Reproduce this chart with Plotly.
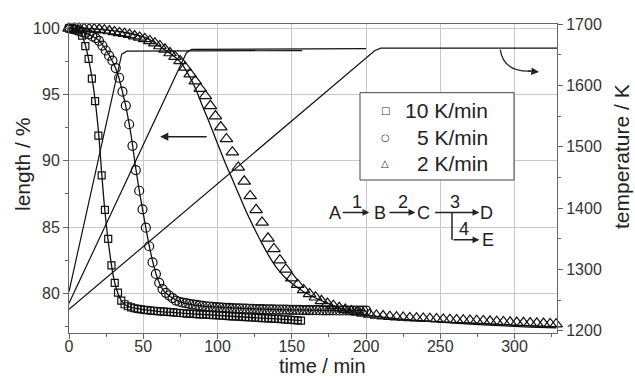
import plotly.graph_objects as go

# ---------------- data ----------------
t_sq = [0, 2.2, 4.4, 6.6, 8.8, 11.0, 13.2, 15.4, 17.6, 19.8, 22.0, 24.2, 26.4, 28.6, 30.8, 33.0, 35.2, 37.4,
        39.6, 41.8, 44.0, 46.2, 48.4, 50.6, 52.8, 55.0, 57.2, 59.4, 61.6, 63.8, 66.0, 68.2, 70.4, 72.6, 74.8,
        77.0, 79.2, 81.4, 83.6, 85.8, 88.0, 90.2, 92.4, 94.6, 96.8, 99.0, 101.2, 103.4, 105.6, 107.8, 110.0,
        112.2, 114.4, 116.6, 118.8, 121.0, 123.2, 125.4, 127.6, 129.8, 132.0, 134.2, 136.4, 138.6, 140.8,
        143.0, 145.2, 147.4, 149.6, 151.8, 154.0, 156.2]
L_sq = [100.0, 99.98, 99.95, 99.85, 99.45, 98.66, 97.7, 96.2, 94.5, 91.9, 88.9, 86.3, 84.1, 82.1, 80.78, 80.05, 79.45, 79.17,
        79.02, 78.93, 78.87, 78.82, 78.78, 78.75, 78.72, 78.69, 78.67, 78.65, 78.63, 78.61, 78.59, 78.57, 78.55, 78.53, 78.51,
        78.49, 78.47, 78.46, 78.44, 78.43, 78.41, 78.40, 78.38, 78.37, 78.35, 78.34, 78.32, 78.31, 78.29, 78.28, 78.26,
        78.25, 78.23, 78.22, 78.20, 78.19, 78.17, 78.16, 78.15, 78.13, 78.12, 78.10, 78.09, 78.07, 78.06,
        78.04, 78.02, 78.01, 77.99, 77.97, 77.95, 77.93]

t_ci = [0, 2.25, 4.5, 6.75, 9.0, 11.25, 13.5, 15.75, 18.0, 20.25, 22.5, 24.75, 27.0, 29.25, 31.5, 33.75, 36.0, 38.25,
        40.5, 42.75, 45.0, 47.25, 49.5, 51.75, 54.0, 56.25, 58.5, 60.75, 63.0, 65.25, 67.5, 69.75, 72.0, 74.25,
        76.5, 78.75, 81.0, 83.25, 85.5, 87.75, 90.0, 92.25, 94.5, 96.75, 99.0, 101.25, 103.5, 105.75, 108.0,
        110.25, 112.5, 114.75, 117.0, 119.25, 121.5, 123.75, 126.0, 128.25, 130.5, 132.75, 135.0, 137.25,
        139.5, 141.75, 144.0, 146.25, 148.5, 150.75, 153.0, 155.25, 157.5, 159.75, 162.0, 164.25, 166.5,
        168.75, 171.0, 173.25, 175.5, 177.75, 180.0, 182.25, 184.5, 186.75, 189.0, 191.25, 193.5, 195.75,
        198.0, 200.25]
L_ci = [100.0, 99.95, 99.88, 99.8, 99.72, 99.66, 99.55, 99.39, 99.27, 99.06, 98.7, 98.33, 97.94, 97.57, 97.0, 96.27, 95.22, 94.17,
        92.76, 91.13, 89.3, 87.74, 86.34, 84.95, 83.55, 82.33, 81.46, 80.78, 80.32, 80.03, 79.83, 79.64, 79.45, 79.36,
        79.3, 79.25, 79.2, 79.16, 79.12, 79.08, 79.05, 79.02, 79.0, 78.98, 78.96, 78.94, 78.92, 78.9, 78.89,
        78.88, 78.87, 78.86, 78.85, 78.84, 78.83, 78.82, 78.81, 78.8, 78.8, 78.79, 78.78, 78.78,
        78.77, 78.77, 78.76, 78.76, 78.75, 78.75, 78.74, 78.74, 78.73, 78.73, 78.73, 78.72, 78.72,
        78.72, 78.71, 78.71, 78.71, 78.71, 78.7, 78.7, 78.7, 78.7, 78.7, 78.69, 78.69, 78.69,
        78.69, 78.69]

t_tr = [0, 3.4, 6.8, 10.2, 13.6, 17.0, 20.4, 23.8, 27.2, 30.6, 34.0, 37.4, 40.8, 44.2, 47.6, 51.0, 54.4, 57.8,
        61.2, 64.6, 68.0, 71.4, 74.8, 78.2, 81.6, 85.0, 88.4, 91.8, 95.2, 98.6, 102.2, 106.0, 110.0, 114.0,
        118.0, 122.0, 126.0, 130.0, 134.0, 138.0, 142.0, 146.0, 150.0, 154.0, 158.0, 162.0, 166.0, 170.0,
        174.0, 178.0, 182.0, 186.0, 190.0, 194.0, 198.0, 202.5, 207, 211.5, 216, 220.5, 225, 229.5, 234,
        238.5, 243, 247.5, 252, 256.5, 261, 265.5, 270, 274.5, 279, 283.5, 288, 292.5, 297, 301.5, 306,
        310.5, 315, 319.5, 324, 328]
L_tr = [100.0, 100.0, 100.0, 99.98, 99.96, 99.94, 99.91, 99.86, 99.8, 99.73, 99.66, 99.6, 99.52, 99.42, 99.32, 99.2, 99.05, 98.88,
        98.67, 98.42, 98.14, 97.86, 97.54, 97.05, 96.55, 96.02, 95.45, 94.9, 94.15, 93.38, 92.55, 91.65, 90.65, 89.5,
        88.45, 87.35, 86.3, 85.35, 84.15, 83.35, 82.5, 81.8, 81.15, 80.65, 80.25, 79.95, 79.7, 79.43,
        79.22, 79.06, 78.9, 78.77, 78.66, 78.57, 78.48, 78.4, 78.33, 78.28, 78.23, 78.2, 78.17, 78.14, 78.12,
        78.1, 78.08, 78.06, 78.03, 78.01, 77.99, 77.97, 77.95, 77.93, 77.91, 77.88, 77.86, 77.84, 77.81, 77.79, 77.77,
        77.75, 77.73, 77.71, 77.69, 77.67]

# model (fit) curves
t_fit10 = [0, 5, 8, 10, 12, 14, 16, 18, 20, 22, 24, 26, 28, 30, 32, 34, 36, 38, 41, 45, 50, 60, 70, 80, 100, 120, 140, 157]
L_fit10 = [100.0, 99.95, 99.65, 99.1, 98.3, 97.2, 95.9, 94.2, 92.0, 89.1, 86.4, 84.3, 82.6, 81.2, 80.3, 79.7, 79.33, 79.12,
           78.96, 78.86, 78.77, 78.64, 78.55, 78.47, 78.33, 78.19, 78.06, 77.93]
t_fit5 = [0, 10, 15, 20, 25, 30, 33, 36, 39, 42, 45, 48, 51, 54, 57, 60, 63, 66, 70, 75, 80, 90, 100, 120, 140, 160, 180, 200]
L_fit5 = [100.0, 99.7, 99.45, 99.1, 98.35, 97.35, 96.5, 95.2, 93.7, 91.8, 89.4, 87.3, 85.4, 83.6, 82.1, 81.0, 80.3, 79.95,
          79.62, 79.35, 79.2, 79.03, 78.95, 78.84, 78.77, 78.73, 78.7, 78.69]
t_fit2 = [0, 20, 40, 50, 55, 60, 65, 70, 75, 80, 85, 90, 95, 100, 105, 110, 115, 120, 125, 130, 135, 140, 145, 150, 158,
          165, 170, 183, 196, 210, 230, 250, 270, 290, 310, 328]
L_fit2 = [100.0, 99.93, 99.65, 99.35, 99.1, 98.72, 98.35, 97.95, 97.45, 96.6, 95.5, 94.1, 92.75, 91.3, 89.9, 88.6, 87.3,
          86.0, 84.85, 83.75, 82.75, 81.9, 81.25, 80.75, 80.11, 79.7, 79.45, 78.85, 78.47, 78.21, 77.98, 77.82, 77.67,
          77.55, 77.45, 77.38]

# temperature programmes (right axis)
t_T10 = [0, 35.5, 39, 157]
T10 = [1264, 1651, 1656, 1657]
t_T5 = [0, 79, 82.5, 200]
T5 = [1245, 1653, 1659, 1660]
t_T2 = [0, 206, 210, 328.6]
T2 = [1235, 1657, 1661, 1661]

series_names = ["10 K/min", "5 K/min", "2 K/min"]
legend_symbols = ["\u25a1", "\u25cb", "\u25b3"]
x_ticks = [0, 50, 100, 150, 200, 250, 300]
y_ticks = [80, 85, 90, 95, 100]
y2_ticks = [1200, 1300, 1400, 1500, 1600, 1700]

FONT = "Arial, 'Liberation Sans', sans-serif"
W, H = 635, 378
ML, MR, MT, MB = 69, 78, 24, 45
pw, ph = W - ML - MR, H - MT - MB
def px2paper(px, py):
    return (px - ML) / pw, (H - MB - py) / ph

fig = go.Figure()

# temperature lines
for tt, TT in [(t_T10, T10), (t_T5, T5), (t_T2, T2)]:
    fig.add_trace(go.Scatter(x=tt, y=TT, mode="lines", yaxis="y2", showlegend=False,
                             line=dict(color="#111", width=1.2), hoverinfo="skip"))
# fits
for tt, LL in [(t_fit10, L_fit10), (t_fit5, L_fit5), (t_fit2, L_fit2)]:
    fig.add_trace(go.Scatter(x=tt, y=LL, mode="lines", showlegend=False, line_shape="spline",
                             line=dict(color="#111", width=1.3), hoverinfo="skip"))
# data markers
specs = [(t_sq, L_sq, "square-open", 7, series_names[0]), (t_ci, L_ci, "circle-open", 9, series_names[1]),
         (t_tr, L_tr, "triangle-up-open", 11, series_names[2])]
for (tt, LL, sym, sz, nm) in specs:
    fig.add_trace(go.Scatter(x=tt, y=LL, mode="markers", name=nm, showlegend=False, cliponaxis=False,
                             marker=dict(symbol=sym, size=sz, color="#111", line=dict(width=1.2, color="#111"))))

# ---- legend box drawn by hand (matches reference layout) ----
bx0, by0 = px2paper(360, 180)
bx1, by1 = px2paper(514, 92.7)
fig.add_shape(type="rect", xref="paper", yref="paper", x0=bx0, y0=by0, x1=bx1, y1=by1,
              line=dict(color="#444", width=1), fillcolor="white", layer="above")
for i, (nm, sy) in enumerate(zip(series_names, legend_symbols)):
    py = 110.5 + i * 26.6
    sx, syp = px2paper(385, py)
    fig.add_annotation(x=sx, y=syp, xref="paper", yref="paper", text=sy, showarrow=False,
                       font=dict(family="DejaVu Sans", size=10, color="#333"), xanchor="center", yanchor="middle")
    tx, typ = px2paper(490, py)
    fig.add_annotation(x=tx, y=typ, xref="paper", yref="paper", text=nm, showarrow=False,
                       font=dict(family=FONT, size=21, color="#222"), xanchor="right", yanchor="middle")

# left arrow (points to length axis)
fig.add_annotation(x=61.3, y=91.82, ax=93.7, ay=91.82, xref="x", yref="y", axref="x", ayref="y",
                   text="", showarrow=True, arrowhead=2, arrowsize=1.1, arrowwidth=1.5, arrowcolor="#222")
# curved arrow (points to temperature axis)
fig.add_shape(type="path", xref="x", yref="y", path="M 290.4 98.4 Q 292.5 96.7 311 96.78",
              line=dict(color="#222", width=1.3))
fig.add_annotation(x=316.5, y=96.7, ax=308, ay=96.8, xref="x", yref="y", axref="x", ayref="y",
                   text="", showarrow=True, arrowhead=2, arrowsize=1.1, arrowwidth=1.4, arrowcolor="#222")

# reaction scheme
sch_font = dict(family=FONT, size=18, color="#222")
for txt, x, y in [("A", 179.0, 86.06), ("B", 209.6, 86.06), ("C", 238.9, 86.06), ("D", 281.0, 86.06),
                  ("E", 282.2, 84.02), ("1", 193.9, 86.9), ("2", 224.6, 86.9), ("3", 260.1, 86.9),
                  ("4", 265.7, 84.85)]:
    fig.add_annotation(x=x, y=y, xref="x", yref="y", text=txt, showarrow=False, font=sch_font)
for (x0, x1, y) in [(183.3, 202.2, 86.1), (214.8, 233.2, 86.1), (245.5, 276.3, 86.1), (257.9, 276.3, 84.04)]:
    fig.add_annotation(x=x1, y=y, ax=x0, ay=y, xref="x", yref="y", axref="x", ayref="y", text="",
                       showarrow=True, arrowhead=2, arrowsize=0.9, arrowwidth=1.5, arrowcolor="#222")
fig.add_shape(type="line", xref="x", yref="y", x0=257.9, x1=257.9, y0=86.1, y1=84.04,
              line=dict(color="#222", width=1.5))

# axis titles
for txt, (px, py), ang, fs in [("time / min", (322, 365.5), 0, 20), ("length / %", (22, 165), -90, 21),
                               ("temperature / K", (621, 157), -90, 21)]:
    xp, yp = px2paper(px, py)
    fig.add_annotation(x=xp, y=yp, xref="paper", yref="paper", text=txt, textangle=ang,
                       showarrow=False, font=dict(family=FONT, size=fs, color="#222"),
                       xanchor="center", yanchor="middle", borderpad=0)

axis_common = dict(showline=True, linecolor="#666", linewidth=1, ticks="outside", ticklen=5, tickwidth=1,
                   tickcolor="#666", tickfont=dict(family=FONT, size=16, color="#333"), zeroline=False,
                   automargin=False)
fig.update_layout(
    width=W, height=H, plot_bgcolor="white", paper_bgcolor="white",
    margin=dict(l=ML, r=MR, t=MT, b=MB, autoexpand=False),
    font=dict(family=FONT, color="#222"), showlegend=False,
    xaxis=dict(range=[0, 328.6], tickvals=x_ticks, showgrid=True, gridcolor="#c8c8c8", gridwidth=1,
               mirror=True, ticklabelstandoff=-6,
               minor=dict(ticks="outside", ticklen=3, tickcolor="#666", dtick=25, tick0=0, showgrid=False),
               **axis_common),
    yaxis=dict(range=[77, 100.33], tickvals=y_ticks, showgrid=True, gridcolor="#c8c8c8", gridwidth=1,
               minor=dict(ticks="outside", ticklen=3, tickcolor="#666", dtick=2.5, tick0=0, showgrid=False),
               **axis_common),
    yaxis2=dict(range=[1196.5, 1700.3], tickvals=y2_ticks, overlaying="y", side="right", showgrid=False,
                minor=dict(ticks="outside", ticklen=3, tickcolor="#666", dtick=50, tick0=0),
                **axis_common),
)
fig.write_html("out.html", config={"displayModeBar": False},
               post_script="document.body.style.margin='0';document.body.style.padding='0';")
